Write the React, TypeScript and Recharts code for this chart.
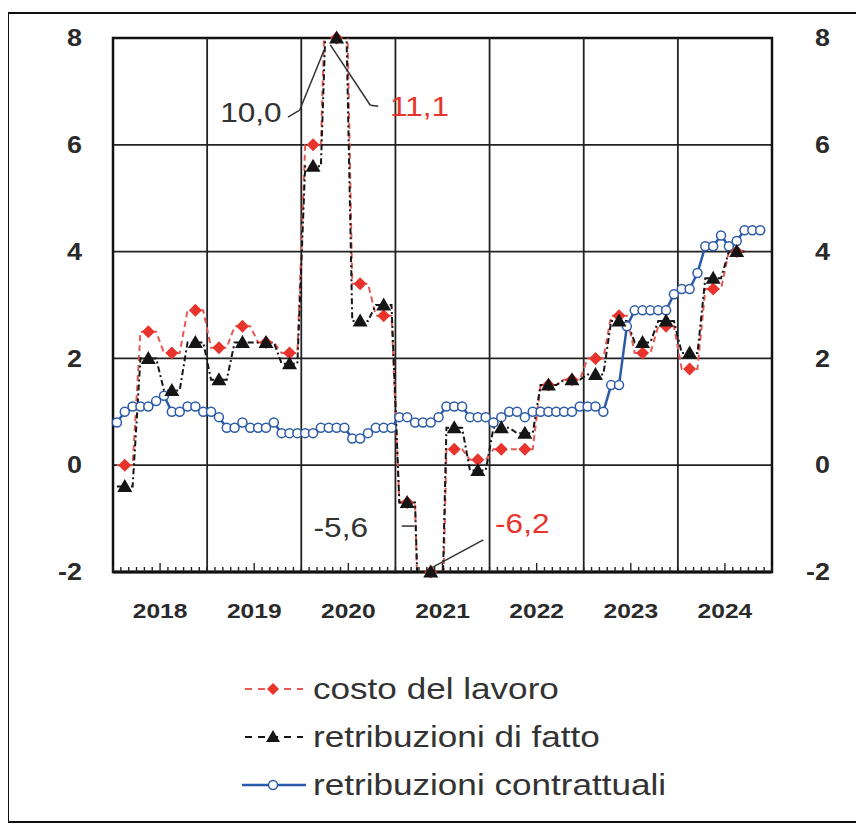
import React from 'react';
import {
  LineChart,
  Line,
  XAxis,
  YAxis,
  CartesianGrid,
  ReferenceLine,
  ReferenceArea,
  ReferenceDot,
} from 'recharts';

const FONT = '"Liberation Sans", Arial, sans-serif';
const STRETCH = 1.17;

const years = ['2018', '2019', '2020', '2021', '2022', '2023', '2024'];
const yTicks = [-2, 0, 2, 4, 6, 8];

// dati trimestrali, 2018T1 - 2024T3
const costoLavoro = [
  0.0, 2.5, 2.1, 2.9,
  2.2, 2.6, 2.3, 2.1,
  6.0, 11.1, 3.4, 2.8,
  -0.7, -6.2, 0.3, 0.1,
  0.3, 0.3, 1.5, 1.6,
  2.0, 2.8, 2.1, 2.6,
  1.8, 3.3, 4.0,
];
const retribuzioniFatto = [
  -0.4, 2.0, 1.4, 2.3,
  1.6, 2.3, 2.3, 1.9,
  5.6, 10.0, 2.7, 3.0,
  -0.7, -5.6, 0.7, -0.1,
  0.7, 0.6, 1.5, 1.6,
  1.7, 2.7, 2.3, 2.7,
  2.1, 3.5, 4.0,
];
// dati mensili, gen 2018 - nov 2024
const retribuzioniContrattuali = [
  0.8, 1.0, 1.1, 1.1, 1.1, 1.2, 1.3, 1.0, 1.0, 1.1, 1.1, 1.0,
  1.0, 0.9, 0.7, 0.7, 0.8, 0.7, 0.7, 0.7, 0.8, 0.6, 0.6, 0.6,
  0.6, 0.6, 0.7, 0.7, 0.7, 0.7, 0.5, 0.5, 0.6, 0.7, 0.7, 0.7,
  0.9, 0.9, 0.8, 0.8, 0.8, 0.9, 1.1, 1.1, 1.1, 0.9, 0.9, 0.9,
  0.8, 0.9, 1.0, 1.0, 0.9, 1.0, 1.0, 1.0, 1.0, 1.0, 1.0, 1.1,
  1.1, 1.1, 1.0, 1.5, 1.5, 2.6, 2.9, 2.9, 2.9, 2.9, 2.9, 3.2,
  3.3, 3.3, 3.6, 4.1, 4.1, 4.3, 4.1, 4.2, 4.4, 4.4, 4.4,
];

const RED = '#e8342c';
const RED_LINE = '#e65a55';
const BLACK = '#151515';
const BLUE = '#2a5aa8';

const clamp = (v: number | null) => (v == null ? null : Math.min(8, Math.max(-2, v)));

// one row per month; quarterly values held over the three months of the quarter
const monthTicks = Array.from({ length: 85 }, (_, i) => i);
const data = Array.from({ length: 84 }, (_, m) => {
  const q = Math.floor(m / 3);
  const costo = costoLavoro[q] ?? null;
  const fatto = retribuzioniFatto[q] ?? null;
  return {
    x: m + 0.5,
    costo,
    fatto,
    contr: retribuzioniContrattuali[m] ?? null,
    costoMk: clamp(costo),
    fattoMk: clamp(fatto),
  };
});

const Diamond = (p: any) => {
  const { cx, cy, index, value } = p;
  if (index % 3 !== 1 || value == null || cy == null) return <g key={`dm-${index}`} />;
  const s = 6.5;
  return (
    <polygon
      key={`dm-${index}`}
      points={`${cx},${cy - s} ${cx + s},${cy} ${cx},${cy + s} ${cx - s},${cy}`}
      fill={RED}
      stroke="none"
    />
  );
};

const Triangle = (p: any) => {
  const { cx, cy, index, value } = p;
  if (index % 3 !== 1 || value == null || cy == null) return <g key={`tr-${index}`} />;
  return (
    <polygon
      key={`tr-${index}`}
      points={`${cx},${cy - 7.5} ${cx + 7.5},${cy + 5.5} ${cx - 7.5},${cy + 5.5}`}
      fill={BLACK}
      stroke="none"
    />
  );
};

function MonthTick(props: any) {
  const { x, y, payload } = props;
  const v = payload.value;
  const mid = v % 12 === 6;
  return (
    <g>
      <line x1={x} x2={x} y1={y} y2={y - (mid ? 9 : 5)} stroke="#222" strokeWidth={1.4} />
      {mid && (
        <text
          transform={`translate(${x} ${y + 46}) scale(${STRETCH} 1)`}
          textAnchor="middle"
          fontSize={21}
          fontWeight={700}
          fontFamily={FONT}
          fill="#2a2a2a"
        >
          {years[(v - 6) / 12]}
        </text>
      )}
    </g>
  );
}

function ValueTick(props: any) {
  const { x, y, payload } = props;
  return (
    <text
      transform={`translate(${x} ${y}) scale(${STRETCH} 1)`}
      dy="0.36em"
      textAnchor="end"
      fontSize={23}
      fontWeight={700}
      fontFamily={FONT}
      fill="#2a2a2a"
    >
      {payload.value}
    </text>
  );
}

const note = (text: string, color: string, anchor: 'start' | 'end') => (p: any) => (
  <text
    transform={`translate(${p.cx} ${p.cy}) scale(${STRETCH} 1)`}
    textAnchor={anchor}
    dy="0.36em"
    fontSize={27}
    fontFamily={FONT}
    fill={color}
  >
    {text}
  </text>
);

const legendItems = [
  { name: 'costo del lavoro', kind: 'diamond' },
  { name: 'retribuzioni di fatto', kind: 'triangle' },
  { name: 'retribuzioni contrattuali', kind: 'circle' },
];

function LegendIcon({ kind }: { kind: string }) {
  if (kind === 'circle') {
    return (
      <svg width={70} height={20}>
        <line x1={2} x2={66} y1={10} y2={10} stroke={BLUE} strokeWidth={2.5} />
        <circle cx={33} cy={10} r={4.5} fill="#fff" stroke={BLUE} strokeWidth={1.5} />
      </svg>
    );
  }
  const color = kind === 'diamond' ? RED_LINE : BLACK;
  return (
    <svg width={70} height={20}>
      <line x1={5} x2={63} y1={10} y2={10} stroke={color} strokeWidth={2} strokeDasharray="7 6" />
      {kind === 'diamond' ? (
        <polygon points="33,4 39,10 33,16 27,10" fill={RED} />
      ) : (
        <polygon points="33,3 40,15 26,15" fill={BLACK} />
      )}
    </svg>
  );
}

export default function App() {
  return (
    <div
      style={{
        position: 'relative',
        width: 851,
        height: 811,
        marginTop: 4,
        marginLeft: -1,
        border: '2px solid #111',
        boxSizing: 'border-box',
        background: '#fff',
      }}
    >
      <div style={{ position: 'absolute', left: 0, top: 0 }}>
        <LineChart width={840} height={620} data={data} margin={{ top: 24, right: 0, bottom: 0, left: 0 }}>
          <CartesianGrid yAxisId="v" vertical={false} stroke="#222" strokeWidth={1.8} />
          {years.slice(1).map((yr, i) => (
            <ReferenceLine key={yr} yAxisId="v" x={(i + 1) * 12} stroke="#222" strokeWidth={1.8} />
          ))}
          <ReferenceArea
            yAxisId="v"
            x1={0}
            x2={84}
            y1={-2}
            y2={8}
            fill="none"
            stroke="#111"
            strokeWidth={2.5}
            fillOpacity={0}
          />
          <XAxis
            dataKey="x"
            type="number"
            domain={[0, 84]}
            ticks={monthTicks}
            interval={0}
            height={62}
            tickSize={0}
            tickMargin={0}
            tickLine={false}
            axisLine={{ stroke: '#111', strokeWidth: 3 }}
            tick={<MonthTick />}
          />
          <YAxis
            yAxisId="v"
            orientation="left"
            width={104}
            type="number"
            domain={[-2, 8]}
            allowDataOverflow
            ticks={yTicks}
            interval={0}
            axisLine={false}
            tickLine={false}
            tickSize={0}
            tickMargin={31}
            tick={<ValueTick />}
          />
          {/* right axis has no overflow clipping: used for the markers, clamped to the frame */}
          <YAxis
            yAxisId="r"
            orientation="right"
            width={77}
            type="number"
            domain={[-2, 8]}
            ticks={yTicks}
            interval={0}
            axisLine={false}
            tickLine={false}
            tickSize={0}
            tickMargin={58}
            tick={<ValueTick />}
          />

          <Line
            yAxisId="v"
            dataKey="costo"
            type="linear"
            stroke={RED_LINE}
            strokeWidth={2}
            strokeDasharray="6 4"
            dot={false}
            activeDot={false}
            isAnimationActive={false}
          />
          <Line
            yAxisId="v"
            dataKey="fatto"
            type="linear"
            stroke={BLACK}
            strokeWidth={2}
            strokeDasharray="6 3 2 3"
            dot={false}
            activeDot={false}
            isAnimationActive={false}
          />
          <Line
            yAxisId="v"
            dataKey="contr"
            type="linear"
            stroke={BLUE}
            strokeWidth={2.5}
            dot={{ r: 4.5, fill: '#fff', stroke: BLUE, strokeWidth: 1.5 }}
            activeDot={false}
            isAnimationActive={false}
          />
          <Line
            yAxisId="r"
            dataKey="costoMk"
            stroke="none"
            dot={Diamond}
            activeDot={false}
            isAnimationActive={false}
          />
          <Line
            yAxisId="r"
            dataKey="fattoMk"
            stroke="none"
            dot={Triangle}
            activeDot={false}
            isAnimationActive={false}
          />

          <ReferenceLine yAxisId="v" segment={[{ x: 22.3, y: 6.52 }, { x: 23.8, y: 6.65 }]} stroke="#333" strokeWidth={1.5} />
          <ReferenceLine yAxisId="v" segment={[{ x: 23.8, y: 6.65 }, { x: 26.9, y: 7.77 }]} stroke="#333" strokeWidth={1.5} />
          <ReferenceLine yAxisId="v" segment={[{ x: 27.7, y: 7.87 }, { x: 32.8, y: 6.74 }]} stroke="#333" strokeWidth={1.5} />
          <ReferenceLine yAxisId="v" segment={[{ x: 32.8, y: 6.74 }, { x: 33.8, y: 6.72 }]} stroke="#333" strokeWidth={1.5} />
          <ReferenceLine yAxisId="v" segment={[{ x: 36.8, y: -1.14 }, { x: 38.4, y: -1.14 }]} stroke="#333" strokeWidth={1.5} />
          <ReferenceLine yAxisId="v" segment={[{ x: 40.0, y: -1.97 }, { x: 47.2, y: -1.4 }]} stroke="#333" strokeWidth={1.5} />
          <ReferenceDot yAxisId="v" x={21.5} y={6.61} shape={note('10,0', '#333', 'end')} />
          <ReferenceDot yAxisId="v" x={35.3} y={6.72} shape={note('11,1', RED, 'start')} />
          <ReferenceDot yAxisId="v" x={32.5} y={-1.16} shape={note('-5,6', '#333', 'end')} />
          <ReferenceDot yAxisId="v" x={48.7} y={-1.09} shape={note('-6,2', RED, 'start')} />
        </LineChart>
      </div>

      <div style={{ position: 'absolute', left: 231, top: 651, fontFamily: FONT }}>
        {legendItems.map((it) => (
          <div key={it.name} style={{ display: 'flex', alignItems: 'center', height: 48 }}>
            <LegendIcon kind={it.kind} />
            <span
              style={{
                display: 'inline-block',
                marginLeft: 3,
                fontSize: 30,
                color: '#333',
                transform: `scaleX(${STRETCH})`,
                transformOrigin: 'left center',
                whiteSpace: 'nowrap',
              }}
            >
              {it.name}
            </span>
          </div>
        ))}
      </div>
    </div>
  );
}
